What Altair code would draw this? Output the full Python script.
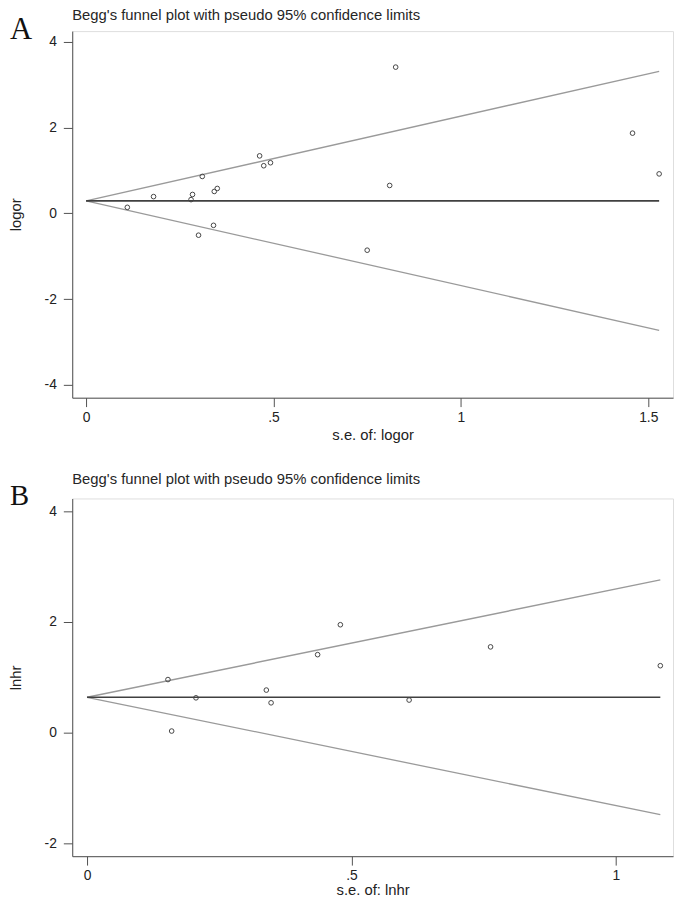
import altair as alt
import pandas as pd

FONT = "Liberation Sans"

# ---------------- Panel A (log OR) ----------------
se_a = [0.11, 0.18, 0.28, 0.284, 0.30, 0.31, 0.34, 0.342, 0.35, 0.463, 0.474,
        0.492, 0.75, 0.81, 0.826, 1.458, 1.529]
logor = [0.14, 0.39, 0.32, 0.44, -0.51, 0.86, -0.28, 0.51, 0.58, 1.34, 1.11,
         1.18, -0.86, 0.65, 3.41, 1.87, 0.92]
line_se_a = [0, 1.529]
pooled_a = [0.29, 0.29]
upper_a = [0.29, 3.31]
lower_a = [0.29, -2.73]

# ---------------- Panel B (log HR) ----------------
se_b = [0.153, 0.160, 0.206, 0.339, 0.348, 0.436, 0.479, 0.609, 0.763, 1.084]
lnhr = [0.96, 0.03, 0.63, 0.77, 0.54, 1.41, 1.95, 0.59, 1.55, 1.21]
line_se_b = [0, 1.084]
pooled_b = [0.64, 0.64]
upper_b = [0.64, 2.76]
lower_b = [0.64, -1.48]

TITLE = "Begg's funnel plot with pseudo 95% confidence limits"


def panel(se, est, line_se, pooled, upper, lower, ytitle, xtitle,
          xdomain, ydomain, xticks, yticks, height, letter, letter_size,
          letter_y, title_y, xtitle_pad):
    pts = pd.DataFrame({"se": se, "est": est})
    rows = []
    for name, vals in (("upper", upper), ("lower", lower), ("pooled", pooled)):
        for s, v in zip(line_se, vals):
            rows.append({"se": s, "est": v, "line": name})
    lines = pd.DataFrame(rows)

    xscale = alt.Scale(domain=xdomain, nice=False, zero=False)
    yscale = alt.Scale(domain=ydomain, nice=False, zero=False)
    xaxis = alt.Axis(values=xticks, title=xtitle, grid=False,
                     labelExpr="datum.value == 0.5 ? '.5' : '' + datum.value",
                     domainColor="#505050", tickColor="#505050", tickSize=9,
                     labelPadding=4, titlePadding=xtitle_pad, labelFont=FONT,
                     titleFont=FONT, labelFontSize=14, titleFontSize=15,
                     titleFontWeight="normal", labelColor="#222222",
                     titleColor="#222222", labelFlush=False)
    yaxis = alt.Axis(values=yticks, title=ytitle, grid=False,
                     labelExpr="'' + datum.value",
                     domainColor="#505050", tickColor="#505050", tickSize=9,
                     labelPadding=7, titlePadding=21, minExtent=28, maxExtent=28,
                     labelFont=FONT, titleFont=FONT, labelFontSize=14,
                     titleFontSize=15, titleFontWeight="normal",
                     labelColor="#222222", titleColor="#222222", labelFlush=False)

    line_layer = alt.Chart(lines).mark_line().encode(
        x=alt.X("se:Q", scale=xscale, axis=xaxis),
        y=alt.Y("est:Q", scale=yscale, axis=yaxis),
        detail="line:N",
        color=alt.Color("line:N", legend=None,
                        scale=alt.Scale(domain=["pooled", "upper", "lower"],
                                        range=["#404040", "#9a9a9a", "#9a9a9a"])),
        strokeWidth=alt.StrokeWidth("line:N", legend=None,
                                    scale=alt.Scale(domain=["pooled", "upper", "lower"],
                                                    range=[1.6, 1.3, 1.3])),
    )
    pt_layer = alt.Chart(pts).mark_point(shape="circle", filled=False, size=22,
                                         color="#444444", strokeWidth=1,
                                         opacity=1).encode(
        x=alt.X("se:Q", scale=xscale),
        y=alt.Y("est:Q", scale=yscale),
    )
    letter_layer = alt.Chart(pd.DataFrame({"t": [letter]})).mark_text(
        font="Liberation Serif", fontSize=letter_size, align="left",
        baseline="alphabetic", color="#111111").encode(
        text="t:N", x=alt.value(-63), y=alt.value(letter_y))
    title_layer = alt.Chart(pd.DataFrame({"t": [TITLE]})).mark_text(
        font=FONT, fontSize=15, align="left", baseline="alphabetic",
        color="#262626").encode(
        text="t:N", x=alt.value(0), y=alt.value(title_y))

    return alt.layer(line_layer, pt_layer, letter_layer, title_layer).properties(
        width=608, height=height)


top = panel(se_a, logor, line_se_a, pooled_a, upper_a, lower_a, "logor",
            "s.e. of: logor", [-0.037, 1.566], [-4.30, 4.25], [0, 0.5, 1, 1.5],
            [-4, -2, 0, 2, 4], 371, "A", 31, 8, -11, 3)
bottom = panel(se_b, lnhr, line_se_b, pooled_b, upper_b, lower_b, "lnhr",
               "s.e. of: lnhr", [-0.028, 1.108], [-2.23, 4.23], [0, 0.5, 1],
               [-2, 0, 2, 4], 362, "B", 29, 7, -15, 0)

chart = alt.vconcat(top, bottom, spacing=28).properties(
    padding={"left": 0, "top": -6, "right": 0, "bottom": 0}
).configure_view(stroke=None).configure(background="white")

chart.save("out.html", embed_options={"renderer": "svg", "actions": False})
